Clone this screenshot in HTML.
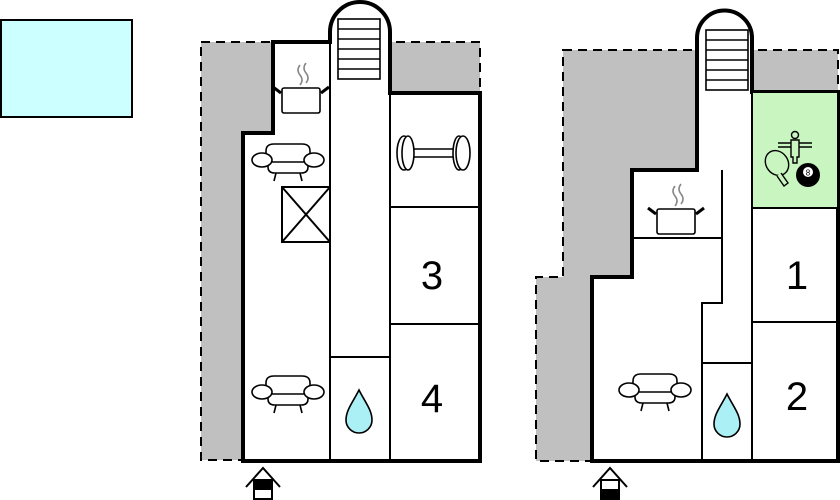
<!DOCTYPE html>
<html><head><meta charset="utf-8"><style>
html,body{margin:0;padding:0;background:#fff;width:840px;height:500px;overflow:hidden}
svg{display:block}
text{font-family:"Liberation Sans",sans-serif}
</style></head><body>
<svg width="840" height="500" viewBox="0 0 840 500" xmlns="http://www.w3.org/2000/svg">
<defs>
<g id="sofa" fill="#fff" stroke="#000" stroke-width="1.6">
  <path d="M-22,-4 L-22,-9 Q-22,-16 -14,-16 L14,-16 Q22,-16 22,-9 L22,-4"/>
  <path d="M-20,4 L-20,7 Q-20,13 -13,13 L13,13 Q20,13 20,7 L20,4"/>
  <line x1="-18" y1="2" x2="18" y2="2"/>
  <ellipse cx="-26" cy="0" rx="10" ry="7"/>
  <ellipse cx="26" cy="0" rx="10" ry="7"/>
  <line x1="-12" y1="13" x2="-14" y2="21"/>
  <line x1="12" y1="13" x2="14" y2="21"/>
</g>
<g id="drop"><path d="M0,-22 C-6,-10 -13,-2 -13,8 A13,13 0 0 0 13,8 C13,-2 6,-10 0,-22 Z" fill="#aaf0f5" stroke="#000" stroke-width="1.6"/></g>
<g id="pot">
  <path d="M-1,-30 q-4,5 0,10 q4,5 0,10 M5,-32 q-4,5 0,10 q4,5 0,10" fill="none" stroke="#888" stroke-width="1.6"/>
  <rect x="-19" y="-7" width="38" height="25" rx="2" fill="#fff" stroke="#000" stroke-width="1.6"/>
  <line x1="-20" y1="-2" x2="-28" y2="-8" stroke="#000" stroke-width="3"/>
  <line x1="20" y1="-2" x2="28" y2="-8" stroke="#000" stroke-width="3"/>
</g>
<g id="stairs" fill="#fff" stroke="#000" stroke-width="1.6">
  <rect x="0" y="0" width="42" height="60"/>
  <line x1="0" y1="10" x2="42" y2="10"/><line x1="0" y1="20" x2="42" y2="20"/>
  <line x1="0" y1="30" x2="42" y2="30"/><line x1="0" y1="40" x2="42" y2="40"/>
  <line x1="0" y1="50" x2="42" y2="50"/>
</g>
</defs>

<rect x="1" y="20" width="131" height="97" fill="#ccffff" stroke="#000" stroke-width="2"/>

<!-- LEFT PLAN -->
<rect x="201" y="42" width="279" height="418" fill="#c0c0c0" stroke="#000" stroke-width="2" stroke-dasharray="9,6"/>
<path d="M243,461 L243,133 L273,133 L273,42 L330,42 L330,32 A30,30 0 0 1 390,32 L390,93 L480,93 L480,461 Z" fill="#fff" stroke="#000" stroke-width="4"/>
<g stroke="#000" stroke-width="2" fill="none">
<line x1="330" y1="42" x2="330" y2="461"/>
<line x1="390" y1="93" x2="390" y2="461"/>
<line x1="330" y1="357" x2="390" y2="357"/>
<line x1="390" y1="207" x2="480" y2="207"/>
<line x1="390" y1="324" x2="480" y2="324"/>
<rect x="282" y="187" width="48" height="55"/>
<line x1="282" y1="187" x2="330" y2="242"/><line x1="330" y1="187" x2="282" y2="242"/>
</g>
<use href="#stairs" x="338" y="19"/>
<use href="#pot" x="301" y="95"/>
<use href="#sofa" x="288" y="160"/>
<use href="#sofa" x="288" y="392"/>
<use href="#drop" x="359" y="412"/>
<g fill="#fff" stroke="#000" stroke-width="1.6">
<rect x="408" y="149" width="48" height="8" rx="4"/>
<ellipse cx="404" cy="153" rx="7" ry="17"/><ellipse cx="408" cy="153" rx="6" ry="17"/>
<ellipse cx="459" cy="153" rx="6" ry="17"/><ellipse cx="463" cy="153" rx="7" ry="17"/>
</g>
<text x="432" y="289" font-size="40" text-anchor="middle">3</text>
<text x="432" y="412" font-size="40" text-anchor="middle">4</text>

<!-- RIGHT PLAN -->
<path d="M563,50 L838,50 L838,461 L536,461 L536,277 L563,277 Z" fill="#c0c0c0" stroke="#000" stroke-width="2" stroke-dasharray="9,6"/>
<path d="M592,461 L592,277 L632,277 L632,170 L697,170 L697,38 A27.5,27.5 0 0 1 752,38 L752,92 L838,92 L838,461 Z" fill="#fff" stroke="#000" stroke-width="4"/>
<rect x="753" y="93" width="84" height="115" fill="#c8f5c0"/>
<g stroke="#000" stroke-width="2" fill="none">
<line x1="752" y1="92" x2="752" y2="461"/>
<line x1="752" y1="208" x2="838" y2="208"/>
<line x1="752" y1="322" x2="838" y2="322"/>
<line x1="632" y1="238" x2="722" y2="238"/>
<path d="M722,170 L722,303 L702,303 L702,461"/>
<line x1="702" y1="363" x2="752" y2="363"/>
</g>
<use href="#stairs" x="706" y="30"/>
<use href="#pot" x="676" y="216"/>
<use href="#sofa" x="655" y="390"/>
<use href="#drop" x="727" y="416"/>
<g stroke="#000" stroke-width="1.4" fill="none">
<line x1="778" y1="143" x2="812" y2="143"/><line x1="778" y1="147" x2="812" y2="147"/>
<circle cx="795" cy="135" r="3.5" fill="#c8f5c0"/>
<path d="M791,140 L799,140 L799,157 L797,157 L797,163 L793,163 L793,157 L791,157 Z" fill="#c8f5c0"/>
<ellipse cx="777" cy="163" rx="11" ry="13" transform="rotate(-35 777 163)" fill="#c8f5c0"/>
<path d="M781,173 L788,183 L784,186 L777,176" fill="#c8f5c0"/>
</g>
<circle cx="808" cy="175" r="12" fill="#000"/>
<circle cx="808" cy="172" r="5" fill="#fff"/>
<text x="808" y="175.5" font-size="8" text-anchor="middle">8</text>
<text x="797" y="289" font-size="40" text-anchor="middle">1</text>
<text x="797" y="410" font-size="40" text-anchor="middle">2</text>

<!-- door icons -->
<g stroke="#000" stroke-width="2" fill="none">
<path d="M246,487 L263,468 L280,487"/>
<rect x="254" y="480" width="18" height="19" fill="#fff"/>
<rect x="254" y="480" width="18" height="9" fill="#000"/>
<path d="M593,487 L610,468 L627,487"/>
<rect x="601" y="480" width="18" height="19" fill="#fff"/>
<rect x="601" y="490" width="18" height="10" fill="#000"/>
</g>
</svg>
</body></html>
